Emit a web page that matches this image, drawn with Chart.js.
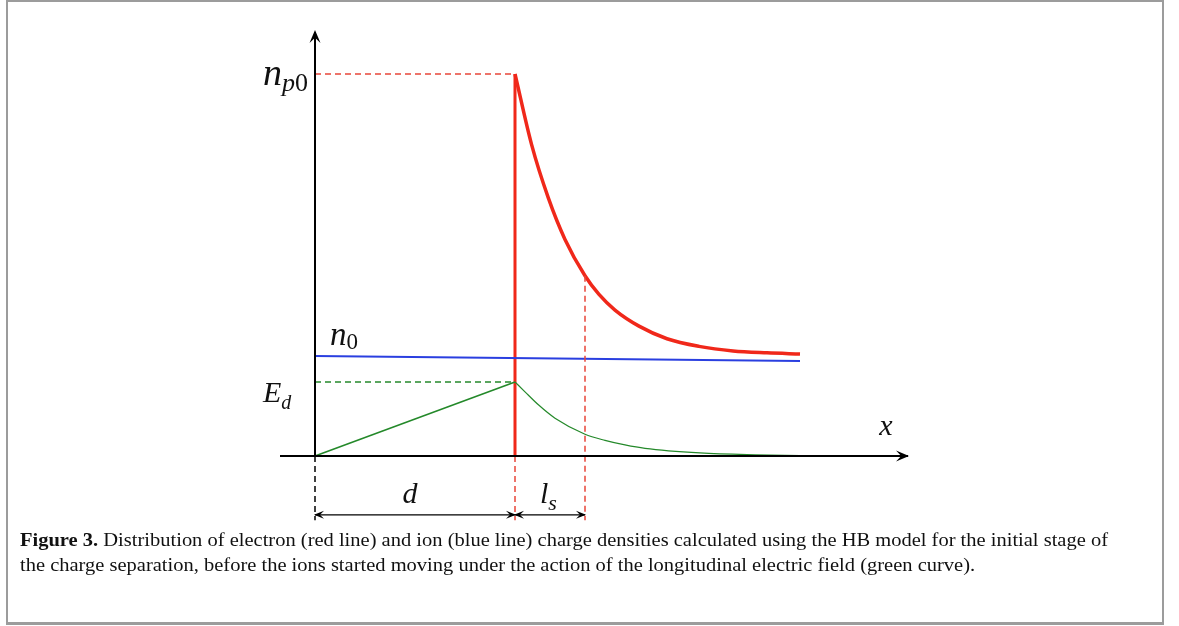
<!DOCTYPE html>
<html>
<head>
<meta charset="utf-8">
<script src="https://cdn.jsdelivr.net/npm/chart.js@4.4.1/dist/chart.umd.min.js"></script>
<style>
  html, body { margin: 0; padding: 0; background: #fff; }
  #wrap { position: relative; width: 1179px; height: 626px; overflow: hidden; }
  #frame { position: absolute; left: 6px; top: 0; width: 1154px; height: 620px;
           border: 2px solid #9c9c9c; border-bottom-width: 3px; }
  #c { position: absolute; left: 0; top: 0; }
  .cap { position: absolute; left: 20px; font-family: "Liberation Serif", serif; font-size: 18px;
         line-height: 25px; color: #111; white-space: nowrap; transform-origin: 0 0; }
</style>
</head>
<body>
<div id="wrap">
  <div id="frame"></div>
  <canvas id="c" width="1179" height="626"></canvas>
  <div class="cap" id="cap1" style="top:528px"><b>Figure 3.</b> Distribution of electron (red line) and ion (blue line) charge densities calculated using the HB model for the initial stage of</div>
  <div class="cap" id="cap2" style="top:553px">the charge separation, before the ions started moving under the action of the longitudinal electric field (green curve).</div>
</div>
<script>
// unidades: x em multiplos de d, y em multiplos de n_p0
const d = 1;
const ls = 1.35;          // posição x do fim de l_s
const np0 = 1;
const Ed = 0.194;
const xEnd = 2.425;       // fim das curvas
const dimY = -0.154;      // altura das setas de cota
const dropY = -0.168;     // fim das linhas tracejadas verticais

const blueX = [0, xEnd];
const blueY = [0.262, 0.249];

const redCurveX = [1.0, 1.083, 1.167, 1.25, 1.35, 1.42, 1.5, 1.62, 1.76, 1.92, 2.09, 2.26, 2.425];
const redCurveY = [1.0, 0.815, 0.675, 0.567, 0.472, 0.423, 0.382, 0.340, 0.307, 0.287, 0.275, 0.270, 0.267];

const greenRiseX = [0, d];
const greenRiseY = [0, Ed];
const greenDecayX = [1.0, 1.05, 1.117, 1.2, 1.35, 1.45, 1.55, 1.65, 1.925, 2.2, 2.425];
const greenDecayY = [0.194, 0.168, 0.134, 0.099, 0.057, 0.041, 0.029, 0.020, 0.008, 0.003, 0.001];

const xAxisX = [-0.175, 2.965];
const yAxisTop = 1.11;

const RED = '#f0281a';
const RED_DASH = '#e8463a';
const BLUE = '#2a3fe0';
const GREEN = '#24892a';

function pts(xs, ys) { return xs.map((x, i) => ({ x: x, y: ys[i] })); }

function line(data, color, width, dash, extra) {
    return Object.assign({
        data: data,
        showLine: true,
        borderColor: color,
        backgroundColor: color,
        borderWidth: width,
        borderDash: dash || [],
        pointRadius: 0,
        fill: false
    }, extra || {});
}

const smooth = { tension: 0.4, cubicInterpolationMode: 'monotone' };

const datasets = [
    line(pts([0, 0], [0, yAxisTop]), '#000', 2),
    line(pts(xAxisX, [0, 0]), '#000', 2),
    line(pts([0, d], [np0, np0]), RED_DASH, 1.5, [6, 4]),
    line(pts([0, d], [Ed, Ed]), GREEN, 1.5, [6, 4]),
    line(pts([0, 0], [0, dropY]), '#000', 1.5, [6, 4]),
    line(pts([d, d], [0, dropY]), RED_DASH, 1.5, [6, 4]),
    line(pts([ls, ls], [redCurveY[4], dropY]), RED_DASH, 1.5, [6, 4]),
    line(pts(blueX, blueY), BLUE, 2),
    line(pts(greenRiseX, greenRiseY), GREEN, 1.6),
    line(pts(greenDecayX, greenDecayY), GREEN, 1.2, [], smooth),
    line(pts([d, d], [0, np0]), RED, 3),
    line(pts(redCurveX, redCurveY), RED, 3.5, [], smooth),
    line(pts([0, d], [dimY, dimY]), '#000', 1.2),
    line(pts([d, ls], [dimY, dimY]), '#000', 1.2)
];

// rótulos matemáticos (posição em unidades do gráfico)
const labels = [
    { x: -0.035, y: 0.971, main: 'n', sub: 'p0', size: 38, subSize: 26, subDrop: 6, align: 'right' },
    { x: 0.075, y: 0.290, main: 'n', sub: '0', size: 33, subSize: 23, subDrop: 4, align: 'left' },
    { x: -0.26, y: 0.141, main: 'E', sub: 'd', size: 30, subSize: 20, subDrop: 7, align: 'left' },
    { x: 2.855, y: 0.055, main: 'x', sub: '', size: 30, subSize: 0, subDrop: 0, align: 'center' },
    { x: 0.475, y: -0.123, main: 'd', sub: '', size: 30, subSize: 0, subDrop: 0, align: 'center' },
    { x: 1.125, y: -0.123, main: 'l', sub: 's', size: 30, subSize: 22, subDrop: 7, align: 'left' }
];

const arrows = [
    { x: 0, y: yAxisTop, dir: 'up', len: 13, half: 5.5 },
    { x: xAxisX[1], y: 0, dir: 'right', len: 13, half: 5.5 },
    { x: 0, y: dimY, dir: 'left', len: 10, half: 4 },
    { x: d, y: dimY, dir: 'right', len: 10, half: 4 },
    { x: d, y: dimY, dir: 'left', len: 10, half: 4 },
    { x: ls, y: dimY, dir: 'right', len: 10, half: 4 }
];

const decorPlugin = {
    id: 'decor',
    afterDatasetsDraw(chart) {
        const ctx = chart.ctx;
        const sx = chart.scales.x, sy = chart.scales.y;
        ctx.save();
        ctx.fillStyle = '#000';
        arrows.forEach(a => {
            const px = sx.getPixelForValue(a.x), py = sy.getPixelForValue(a.y);
            ctx.beginPath();
            if (a.dir === 'up') {
                ctx.moveTo(px, py - 2);
                ctx.lineTo(px - a.half, py + a.len - 2);
                ctx.lineTo(px, py + a.len * 0.6 - 2);
                ctx.lineTo(px + a.half, py + a.len - 2);
            } else {
                const s = a.dir === 'right' ? 1 : -1;
                ctx.moveTo(px + s * 1, py);
                ctx.lineTo(px + s * (1 - a.len), py - a.half);
                ctx.lineTo(px + s * (1 - a.len * 0.6), py);
                ctx.lineTo(px + s * (1 - a.len), py + a.half);
            }
            ctx.closePath();
            ctx.fill();
        });
        ctx.fillStyle = '#111';
        ctx.textBaseline = 'alphabetic';
        ctx.textAlign = 'left';
        const italic = s => 'italic ' + s + 'px "Liberation Serif", serif';
        const roman = s => s + 'px "Liberation Serif", serif';
        labels.forEach(l => {
            // índice: letras em itálico, dígitos em romano
            const parts = l.sub.split('').map(ch => ({ ch: ch, font: /[0-9]/.test(ch) ? roman(l.subSize) : italic(l.subSize) }));
            ctx.font = italic(l.size);
            const wMain = ctx.measureText(l.main).width;
            let wSub = 0;
            parts.forEach(p => { ctx.font = p.font; p.w = ctx.measureText(p.ch).width; wSub += p.w; });
            let px = sx.getPixelForValue(l.x);
            const py = sy.getPixelForValue(l.y);
            if (l.align === 'right') px -= wMain + wSub;
            if (l.align === 'center') px -= (wMain + wSub) / 2;
            ctx.font = italic(l.size);
            ctx.fillText(l.main, px, py);
            let cx = px + wMain;
            parts.forEach(p => {
                ctx.font = p.font;
                ctx.fillText(p.ch, cx, py + l.subDrop);
                cx += p.w;
            });
        });
        ctx.restore();
    }
};

new Chart(document.getElementById('c'), {
    type: 'scatter',
    data: { datasets: datasets },
    options: {
        responsive: false,
        animation: false,
        devicePixelRatio: 1,
        layout: { padding: 0 },
        plugins: { legend: { display: false }, tooltip: { enabled: false } },
        scales: {
            x: { type: 'linear', min: -1.575, max: 4.32, display: false },
            y: { type: 'linear', min: -0.445, max: 1.1937, display: false }
        }
    },
    plugins: [decorPlugin]
});

// ajusta a legenda à largura da figura original
const cap1 = document.getElementById('cap1');
const cap2 = document.getElementById('cap2');
const k = 1088 / cap1.getBoundingClientRect().width;
[cap1, cap2].forEach(el => { el.style.transform = 'scaleX(' + k + ')'; });
</script>
</body>
</html>
